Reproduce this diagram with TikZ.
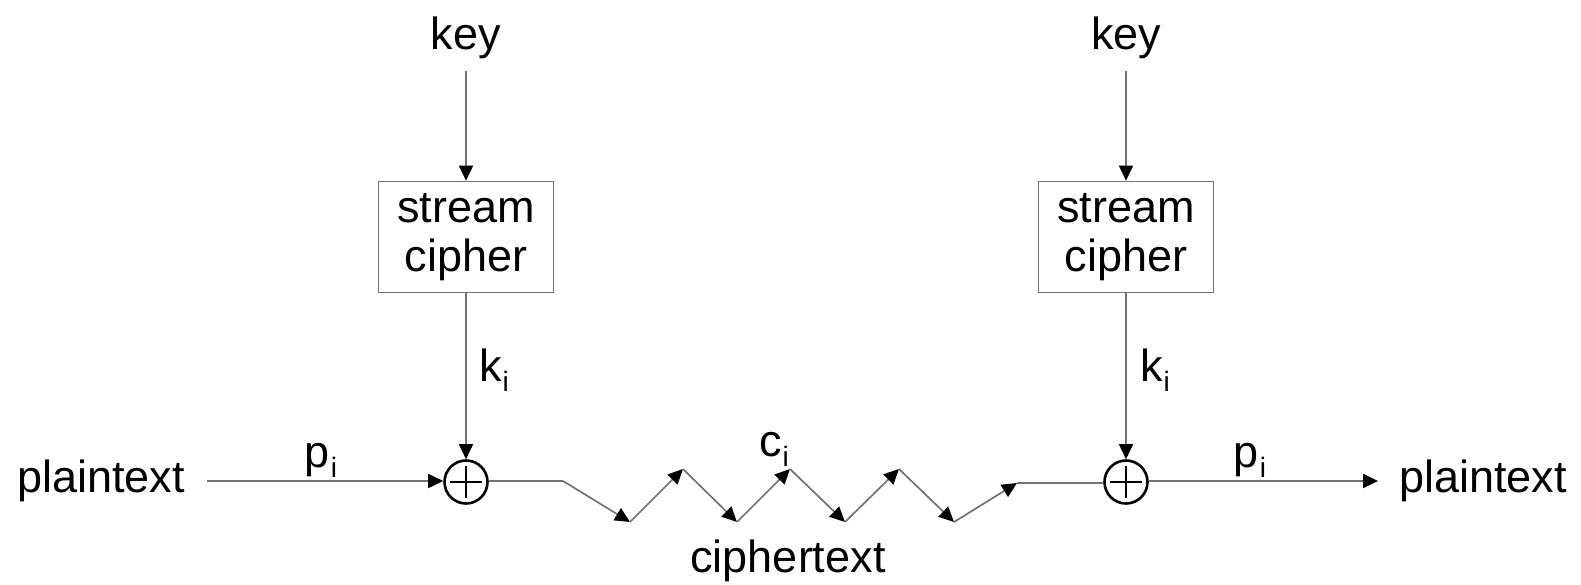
\documentclass[tikz,border=0pt]{standalone}
\usepackage{fontspec}
\setmainfont{Liberation Sans}
\usetikzlibrary{arrows.meta}
\newcommand\lowsub[1]{\kern1pt\raisebox{-10pt}{\fontsize{28}{28}\selectfont #1}}
\tikzset{
  lbl/.style={font=\fontsize{45}{54}\selectfont, inner sep=0pt, text=black},
  cipherbox/.style={draw=black!55, line width=1.6pt, minimum width=175pt, minimum height=111pt,
    align=center, inner sep=0pt, font=\fontsize{45}{49}\selectfont},
  xorgate/.style={circle, draw=black, line width=2.6pt, minimum size=43pt, inner sep=0pt,
    path picture={\draw[line width=2.4pt] ([xshift=-16pt]path picture bounding box.center) -- ([xshift=16pt]path picture bounding box.center);
                  \draw[line width=2.4pt] ([yshift=-16pt]path picture bounding box.center) -- ([yshift=16pt]path picture bounding box.center);}},
  wire/.style={draw=black!55, line width=1.7pt},
  flow/.style={wire, -{Triangle[length=15pt, width=14pt, color=black]}},
}
\begin{document}
\begin{tikzpicture}[x=1pt, y=-1pt]
\useasboundingbox[fill=white] (0,0) rectangle (1581,585);

% sender side
\node[lbl] (keyA) at (466,38) {key};
\node[cipherbox] (scA) at (466,237) {stream\\cipher};
\node[xorgate] (xorA) at (466,482) {};
\node[lbl] (ptA) at (101,481) {plaintext};
\node[lbl] (kA) at (494,370) {k\lowsub{i}};
\node[lbl] (pA) at (321,460) {p\lowsub{i}};

% receiver side
\node[lbl] (keyB) at (1126,38) {key};
\node[cipherbox] (scB) at (1126,237) {stream\\cipher};
\node[xorgate] (xorB) at (1126,482) {};
\node[lbl] (ptB) at (1483,481) {plaintext};
\node[lbl] (kB) at (1155,370) {k\lowsub{i}};
\node[lbl] (pB) at (1250,460) {p\lowsub{i}};

% ciphertext channel
\node[lbl] (cI) at (774,449) {c\lowsub{i}};
\node[lbl] (ct) at (788,561) {ciphertext};

\coordinate (kAtop) at (466,71);
\coordinate (kBtop) at (1126,71);
\coordinate (ptAend) at (207,481);
\coordinate (ptBend) at (1378,481);

\coordinate (z0) at (563,481);
\coordinate (z1) at (630,522);
\coordinate (z2) at (683,469);
\coordinate (z3) at (737,522);
\coordinate (z4) at (790,469);
\coordinate (z5) at (845,522);
\coordinate (z6) at (899,469);
\coordinate (z7) at (954,522);
\coordinate (z8) at (1017,483);

% key streams
\draw[flow] (kAtop) -- (scA.north);
\draw[flow] (scA.south) -- (xorA.north);
\draw[flow] (kBtop) -- (scB.north);
\draw[flow] (scB.south) -- (xorB.north);

% plaintext in and out
\draw[flow] (ptAend) -- (xorA.west |- ptAend);
\draw[flow] (xorB.east |- ptBend) -- (ptBend);

% zigzag transmission
\draw[wire] (xorA.east |- z0) -- (z0);
\foreach \a/\b in {z0/z1,z1/z2,z2/z3,z3/z4,z4/z5,z5/z6,z6/z7,z7/z8}
  \draw[flow] (\a) -- (\b);
\draw[wire] (z8) -- (xorB.west |- z8);
\end{tikzpicture}
\end{document}
